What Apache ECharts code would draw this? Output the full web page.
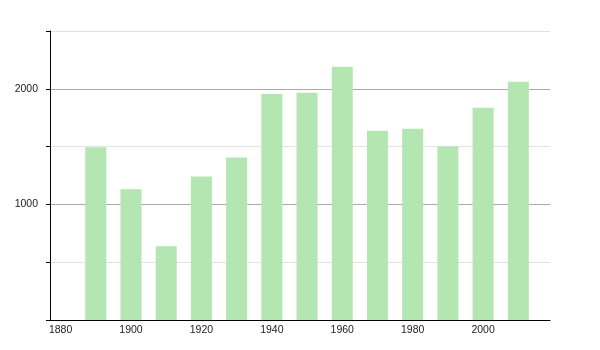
<!DOCTYPE html>
<html><head><meta charset="utf-8">
<script src="https://cdn.jsdelivr.net/npm/echarts@6/dist/echarts.min.js"></script>
<style>html,body{margin:0;padding:0;background:#fff}#c{width:600px;height:350px}</style>
</head><body><div id="c"></div>
<script>
var years = [1890, 1900, 1910, 1920, 1930, 1940, 1950, 1960, 1970, 1980, 1990, 2000, 2010];
var population = [1494, 1130, 638, 1241, 1405, 1955, 1965, 2190, 1638, 1655, 1500, 1836, 2060];
var xTickLabels = [1880, 1900, 1920, 1940, 1960, 1980, 2000];
var yTickLabels = [1000, 2000];

var chart = echarts.init(document.getElementById('c'), null, {renderer: 'canvas'});
chart.setOption({
  animation: false,
  grid: {left: 50, right: 50, top: 31, bottom: 30, containLabel: false},
  xAxis: {
    type: 'value', min: 1877, max: 2019,
    axisLine: {show: true, lineStyle: {color: '#000', width: 1}},
    axisTick: {show: false},
    splitLine: {show: false},
    axisLabel: {
      customValues: xTickLabels, color: '#222', fontSize: 10.5,
      fontFamily: 'Liberation Sans, Arial, sans-serif', margin: 5,
      formatter: function (v) { return String(v); }
    }
  },
  yAxis: {
    type: 'value', min: 0, max: 2500, interval: 500,
    axisLine: {show: true, lineStyle: {color: '#000', width: 1}},
    axisTick: {show: true, length: 4, lineStyle: {color: '#000'}},
    splitLine: {show: true, lineStyle: {color: ['#aaaaaa', '#e2e2e2'], width: 1}},
    axisLabel: {
      color: '#222', fontSize: 10.5, fontFamily: 'Liberation Sans, Arial, sans-serif', margin: 12,
      formatter: function (v) { return yTickLabels.indexOf(v) >= 0 ? String(v) : ''; }
    }
  },
  series: [{
    type: 'bar', barWidth: 21,
    itemStyle: {color: '#b3e6b1'},
    data: years.map(function (y, i) { return [y, population[i]]; })
  }]
});
</script></body></html>
